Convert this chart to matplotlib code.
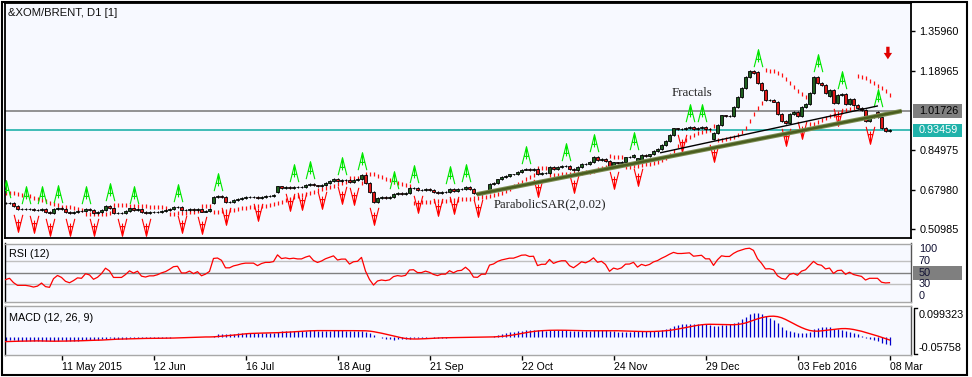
import numpy as np
import matplotlib
matplotlib.use("Agg")
import matplotlib.pyplot as plt
from matplotlib.path import Path
from matplotlib.patches import Rectangle
import matplotlib.transforms as mtrans

plt.rcParams['font.family'] = ['Liberation Sans', 'DejaVu Sans']

W, H = 972, 377

symbol_title = "&XOM/BRENT, D1 [1]"

# daily closes (bar 0 .. bar 221)
closes = [
    0.6204, 0.6230, 0.6088, 0.5972, 0.5972, 0.5972, 0.5946, 0.5903, 0.5916, 0.5959,
    0.5830, 0.5800, 0.5946, 0.6015, 0.5959, 0.5830, 0.5774, 0.5817, 0.5873, 0.5860,
    0.5959, 0.5929, 0.5800, 0.5843, 0.5929, 0.6088, 0.6015, 0.5800, 0.5800, 0.5800,
    0.5873, 0.5981, 0.5916, 0.5972, 0.5817, 0.5787, 0.5817, 0.5817, 0.5843, 0.5886,
    0.5916, 0.5972, 0.6045, 0.6058, 0.5916, 0.5916, 0.5959, 0.5903, 0.5946, 0.5851,
    0.5886, 0.5946, 0.6488, 0.6518, 0.6462, 0.6247, 0.6247, 0.6333, 0.6376, 0.6432,
    0.6462, 0.6462, 0.6462, 0.6411, 0.6488, 0.6531, 0.6531, 0.6561, 0.6928, 0.6850,
    0.6893, 0.6876, 0.6906, 0.6893, 0.6893, 0.6979, 0.7048, 0.6971, 0.6936, 0.6992,
    0.7091, 0.7164, 0.7250, 0.7177, 0.7220, 0.7220, 0.7134, 0.7220, 0.7237, 0.7422,
    0.7078, 0.6691, 0.6260, 0.6432, 0.6475, 0.6432, 0.6462, 0.6592, 0.6635, 0.6605,
    0.6635, 0.6863, 0.6876, 0.6764, 0.6764, 0.6820, 0.6777, 0.6704, 0.6661, 0.6704,
    0.6704, 0.6807, 0.6747, 0.6807, 0.6820, 0.6919, 0.6833, 0.6626, 0.6618, 0.6704,
    0.6704, 0.7035, 0.7091, 0.7229, 0.7323, 0.7379, 0.7444, 0.7444, 0.7538, 0.7658,
    0.7680, 0.7650, 0.7667, 0.7465, 0.7521, 0.7521, 0.7766, 0.7667, 0.7753, 0.7809,
    0.7809, 0.7693, 0.7637, 0.7753, 0.7908, 0.7882, 0.7981, 0.8183, 0.8067, 0.8123,
    0.8037, 0.7809, 0.7960, 0.7917, 0.7981, 0.8175, 0.8183, 0.8282, 0.8132, 0.8282,
    0.8239, 0.8304, 0.8454, 0.8541, 0.8713, 0.8885, 0.9143, 0.9423, 0.9388, 0.9388,
    0.9431, 0.9474, 0.9388, 0.9431, 0.9474, 0.9388, 0.9388, 0.9216, 0.9573, 0.9982,
    0.9960, 0.9960, 1.0361, 1.0791, 1.1153, 1.1652, 1.1897, 1.1798, 1.1368, 1.1080,
    1.0649, 1.0670, 1.0584, 1.0047, 0.9758, 0.9647, 1.0047, 1.0146, 0.9960, 1.0335,
    1.0477, 1.0963, 1.1626, 1.1368, 1.1295, 1.0963, 1.1079, 1.0533, 1.0864, 1.0907,
    1.0464, 1.0692, 1.0434, 1.0318, 1.0219, 0.9758, 0.9905, 0.9905, 0.9905, 0.9432,
    0.9330, 0.9346,
]
# bars whose open differs from the previous close (gaps)
gap_opens = {52: 0.6204, 68: 0.6704, 158: 0.7926, 159: 0.8067, 177: 0.8958,
             188: 1.1841, 206: 1.0821, 218: 1.0133}
wick = 0.004

up_fractals = [0, 5, 9, 13, 20, 26, 32, 43, 53, 72, 76, 84, 89, 97, 102, 111, 115,
               130, 140, 147, 157, 171, 174, 188, 203, 209, 218]
down_fractals = [3, 7, 11, 16, 22, 29, 35, 44, 49, 55, 63, 71, 74, 79, 84, 87, 92,
                 103, 108, 112, 118, 133, 142, 152, 158, 169, 177, 195, 199, 208, 216]

date_ticks = [14, 37, 60, 83, 106, 129, 152, 175, 198, 221]
date_labels = ["11 May 2015", "12 Jun", "16 Jul", "18 Aug", "21 Sep", "22 Oct",
               "24 Nov", "29 Dec", "03 Feb 2016", "08 Mar"]
price_ticks = [1.35960, 1.18965, 0.84975, 0.67980, 0.50985]
price_range = (0.47113, 1.48222)
level_gray = 1.01726
level_bid = 0.93459
sar_start = 0.666
sar_step, sar_max = 0.02, 0.2
trend_sar_x, trend_sar_y = [117.8, 224.05], [0.6591, 1.0175]
trend_frac_x, trend_frac_y = [163.8, 217.95], [0.8381, 1.0390]
signal_arrow_x, signal_arrow_top, signal_arrow_tip = 220.6, 1.294, 1.240
rsi_period = 12
rsi_start = 38.0          # RSI value at the first bar
rsi_levels = [70, 50, 30]
rsi_axis_labels = [100, 70, 50, 30, 0]
macd_fast, macd_slow, macd_sig = 12, 26, 9
macd_start = -0.012       # MACD value at the first bar
signal_start = -0.015
macd_range = (-0.05758, 0.099323)

# ---------------------------------------------------------------- data prep
c = np.array(closes)
n = len(c)
idx = np.arange(n)
o = np.concatenate([[c[0]], c[:-1]])
for k, v in gap_opens.items():
    o[k] = v
hi = np.maximum(o, c) + wick
lo = np.minimum(o, c) - wick

# Parabolic SAR
sar = np.zeros(n)
bull = False
af = sar_step
ep = lo[0]
sar[0] = sar_start
for i in range(1, n):
    s = sar[i - 1] + af * (ep - sar[i - 1])
    if bull:
        s = min(s, lo[i - 1], lo[max(i - 2, 0)])
        if lo[i] < s:
            bull, s, ep, af = False, ep, lo[i], sar_step
        elif hi[i] > ep:
            ep, af = hi[i], min(af + sar_step, sar_max)
    else:
        s = max(s, hi[i - 1], hi[max(i - 2, 0)])
        if hi[i] > s:
            bull, s, ep, af = True, ep, hi[i], sar_step
        elif lo[i] < ep:
            ep, af = lo[i], min(af + sar_step, sar_max)
    sar[i] = s

# RSI (Wilder smoothing, seeded with the first visible value)
d = np.diff(c, prepend=c[0])
g = np.clip(d, 0, None)
l = np.clip(-d, 0, None)
m0 = np.abs(np.diff(c[:rsi_period + 1])).mean()
ag = np.zeros(n); al = np.zeros(n)
ag[0] = m0 * rsi_start / 100
al[0] = m0 * (1 - rsi_start / 100)
for i in range(1, n):
    ag[i] = ag[i - 1] + (g[i] - ag[i - 1]) / rsi_period
    al[i] = al[i - 1] + (l[i] - al[i - 1]) / rsi_period
rsi = 100 * ag / (ag + al)

# MACD (EMA difference, SMA signal), seeded with the first visible values
def ema(x, p, seed):
    a = 2.0 / (p + 1)
    out = np.zeros_like(x)
    out[0] = seed
    for i in range(1, len(x)):
        out[i] = out[i - 1] + a * (x[i] - out[i - 1])
    return out
macd = ema(c, macd_fast, c[0]) - ema(c, macd_slow, c[0] - macd_start)
signal = np.zeros(n)
for i in range(n):
    w = macd[max(0, i - macd_sig + 1):i + 1]
    pad = macd_sig - len(w)
    signal[i] = (w.sum() + pad * signal_start) / macd_sig

# ---------------------------------------------------------------- figure
fig = plt.figure(figsize=(W / 100, H / 100), dpi=100)
fig.patch.set_facecolor('white')

def rect(x0, y0, x1, y1):
    return [x0 / W, 1 - y1 / H, (x1 - x0) / W, (y1 - y0) / H]

bg = '#F7F9FF'
ax = fig.add_axes(rect(5, 3, 911, 238))
axr = fig.add_axes(rect(5, 243.5, 911, 301.8))
axm = fig.add_axes(rect(5, 306, 911, 355))
xlim = (-0.125, 226.375)
for a in (ax, axr, axm):
    a.set_facecolor(bg)
    a.set_xlim(*xlim)
    a.set_xticks([])
    a.set_yticks([])

# main panel
ax.set_ylim(*price_range)
for s in ax.spines.values():
    s.set_color('black'); s.set_linewidth(1.3)

ax.axhline(level_gray, color='#808080', lw=1.2, zorder=1)
ax.axhline(level_bid, color='#20B2AA', lw=1.2, zorder=1)

ax.vlines(idx, lo, hi, color='black', lw=0.8, zorder=3)
cols = np.where(c > o, '#1F5F1F', np.where(c < o, '#E01818', 'black'))
ax.bar(idx, c - o, bottom=o, width=0.78, color=cols, edgecolor='black',
       linewidth=0.6, zorder=4)

ax.plot(idx, sar, ls='none', marker='|', ms=2.6, mew=0.9, color='#FF1010', zorder=2)

up_path = Path([(-0.5, -1), (0, 1), (0.5, -1), (0, 1), (0, -0.45), (-0.27, -0.1), (0.27, -0.1)],
               [Path.MOVETO, Path.LINETO, Path.LINETO, Path.MOVETO, Path.LINETO, Path.MOVETO, Path.LINETO])
dn_path = Path([(-0.5, 1), (0, -1), (0.5, 1), (0, -1), (0, 0.45), (-0.27, 0.1), (0.27, 0.1)],
               [Path.MOVETO, Path.LINETO, Path.LINETO, Path.MOVETO, Path.LINETO, Path.MOVETO, Path.LINETO])
off = 0.056
uf = np.array(up_fractals); df = np.array(down_fractals)
ax.plot(uf, hi[uf] + off, ls='none', marker=up_path, ms=12.5, mfc='none', mec='#00E600',
        mew=0.8, zorder=5)
ax.plot(df, lo[df] - off, ls='none', marker=dn_path, ms=12.5, mfc='none', mec='#FF0000',
        mew=0.8, zorder=5)

ax.plot(trend_sar_x, trend_sar_y, color='#7E8F55', lw=3.2, solid_capstyle='butt', zorder=6)
ax.plot(trend_sar_x, trend_sar_y, color='#4A5E20', lw=1.8, solid_capstyle='butt', zorder=6)
ax.plot(trend_frac_x, trend_frac_y, color='black', lw=1.0, zorder=6)

ax.text(166.6, 1.0950, "Fractals", family=['Liberation Serif', 'DejaVu Serif'], fontsize=9.3,
        color='#222222', va='center', ha='left', zorder=7)
ax.text(122.1, 0.6174, "ParabolicSAR(2,0.02)", family=['Liberation Serif', 'DejaVu Serif'],
        fontsize=9.1, color='#222222', va='center', ha='left', zorder=7)
ax.annotate('', xy=(signal_arrow_x, signal_arrow_tip), xytext=(signal_arrow_x, signal_arrow_top),
            arrowprops=dict(width=2.4, headwidth=6.0, headlength=4.6, shrink=0.0,
                            facecolor='#E00000', edgecolor='#E00000', lw=0), zorder=7)

ax.text(3 / 906, (238 - 13) / 235, symbol_title, transform=ax.transAxes, fontsize=8.1,
        va='center', ha='left', color='#111111')

# right price axis
ax.yaxis.tick_right()
ax.set_yticks(price_ticks)
ax.set_yticklabels([f"{v:.5f}" for v in price_ticks])
ax.tick_params(axis='y', length=3, width=1, pad=3, labelsize=7.8, color='black')
bt = mtrans.blended_transform_factory(ax.transAxes, ax.transData)
hh = 0.0285
for val, fc, tc in ((level_gray, '#7F7F7F', 'black'), (level_bid, '#20B2AA', 'white')):
    ax.add_patch(Rectangle((1.0022, val - hh), 0.0541, 2 * hh, transform=bt,
                           facecolor=fc, edgecolor='none', clip_on=False, zorder=8))
    ax.text(1.0088, val, f"{val:.5f}", transform=bt, fontsize=7.8, color=tc,
            va='center', ha='left', clip_on=False, zorder=9)

# RSI panel
axr.set_ylim(0, 100)
for s in axr.spines.values():
    s.set_color('#A8A8A8'); s.set_linewidth(1.0)
axr.spines['left'].set_color('black'); axr.spines['right'].set_color('#555555')
for lv in rsi_levels:
    axr.axhline(lv, color='#808080' if lv == 50 else '#C0C0C0', lw=1.0, zorder=1)
axr.plot(idx, rsi, color='#FF0000', lw=0.9, zorder=3)
axr.text(4 / 906, (301.8 - 254) / 58.3, f"RSI ({rsi_period})", transform=axr.transAxes,
         fontsize=7.8, va='center', ha='left')
btr = mtrans.blended_transform_factory(axr.transAxes, axr.transData)
axr.add_patch(Rectangle((1.0022, 50 - 12.0), 0.0541, 24.0, transform=btr, facecolor='#7F7F7F',
                        edgecolor='none', clip_on=False, zorder=2))
for v in rsi_axis_labels:
    va = 'top' if v == 100 else ('bottom' if v == 0 else 'center')
    yv = 99 if v == 100 else (1 if v == 0 else v)
    axr.text(1.0088, yv, str(v), transform=btr, fontsize=7.8, va=va, ha='left',
             color='#111133', clip_on=False, zorder=3)

# MACD panel
axm.set_ylim(*macd_range)
for s in axm.spines.values():
    s.set_color('#A8A8A8'); s.set_linewidth(1.0)
axm.spines['left'].set_color('black'); axm.spines['right'].set_color('#555555')
axm.vlines(idx, 0, macd, color='#0000CC', lw=0.9, zorder=2)
axm.plot(idx, signal, color='#FF0000', lw=1.0, zorder=3)
axm.text(4 / 906, (355 - 318) / 49, f"MACD ({macd_fast}, {macd_slow}, {macd_sig})",
         transform=axm.transAxes, fontsize=7.8, va='center', ha='left')
axm.text(1.0088, (355 - 315) / 49, f"{macd_range[1]:.6f}", transform=axm.transAxes,
         fontsize=7.8, va='center', ha='left', clip_on=False)
axm.text(1.0088, (355 - 347.7) / 49, f"{macd_range[0]:.5f}", transform=axm.transAxes,
         fontsize=7.8, va='center', ha='left', clip_on=False)
bx0, bx1 = (913.5 - 5) / 906, (916.5 - 5) / 906
axm.plot([bx1, bx0, bx0, bx1], [0.96, 0.96, 0.02, 0.02], transform=axm.transAxes,
         color='black', lw=1.0, clip_on=False)

axm.set_xticks(date_ticks)
axm.set_xticklabels(date_labels)
for lab in axm.get_xticklabels():
    lab.set_ha('left')
axm.tick_params(axis='x', length=3.5, width=1, direction='out', pad=1.5, labelsize=7.6)

# outer window frame
fig.add_artist(Rectangle((2 / W, 1 - 375 / H), 965 / W, 373 / H, transform=fig.transFigure,
                         fill=False, edgecolor='black', lw=1.5))

fig.savefig("out.png", dpi=100, facecolor='white')
